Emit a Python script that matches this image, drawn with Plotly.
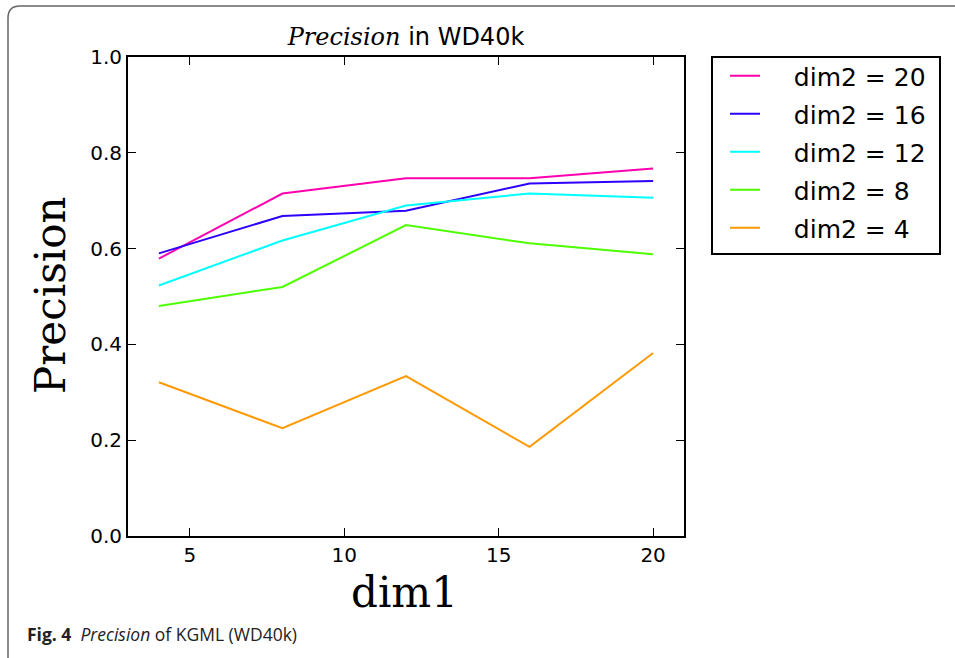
import plotly.graph_objects as go

dim1 = [4, 8, 12, 16, 20]
series_names = ["dim2 = 20", "dim2 = 16", "dim2 = 12", "dim2 = 8", "dim2 = 4"]
prec_20 = [0.579, 0.715, 0.747, 0.747, 0.767]
prec_16 = [0.590, 0.668, 0.679, 0.736, 0.741]
prec_12 = [0.523, 0.617, 0.690, 0.715, 0.706]
prec_8 = [0.480, 0.520, 0.649, 0.611, 0.588]
prec_4 = [0.321, 0.225, 0.334, 0.186, 0.382]
series_values = [prec_20, prec_16, prec_12, prec_8, prec_4]
colors = ["#FF00B0", "#2E00FF", "#00FFFF", "#4DFF00", "#FF9900"]
x_ticks = [5, 10, 15, 20]
y_ticks = [0.0, 0.2, 0.4, 0.6, 0.8, 1.0]

W, H = 955, 658
L, R, T, B = 128, 684, 57, 536


def px(x):
    return (x - L) / (R - L)


def py(y):
    return (B - y) / (B - T)


pad = "\u00a0\u00a0\u00a0\u2009"
fig = go.Figure()
for i, (name, vals, col) in enumerate(zip(series_names, series_values, colors)):
    fig.add_trace(go.Scatter(
        x=dim1, y=vals, mode="lines", name=pad + name,
        line=dict(color=col, width=2),
        legendgroup=f"g{i}",
    ))

axis_common = dict(
    showgrid=False, zeroline=False, showline=True, linecolor="black",
    linewidth=2, mirror="ticks", ticks="inside", ticklen=8, tickwidth=1.3,
    tickcolor="black",
    tickfont=dict(family="DejaVu Sans", size=20, color="black"),
)

fig.update_xaxes(range=[3, 21], tickvals=x_ticks, **axis_common)
fig.update_yaxes(range=[0, 1], tickvals=y_ticks, tickformat=".1f", **axis_common)

frame_path = (
    f"M {px(8)},{py(660)} L {px(8)},{py(18)} "
    f"Q {px(8)},{py(6)} {px(20)},{py(6)} L {px(960)},{py(6)}"
)

fig.update_layout(
    width=W, height=H,
    margin=dict(l=L, r=W - R, t=T, b=H - B, autoexpand=False),
    paper_bgcolor="white", plot_bgcolor="white",
    title=dict(
        text="<span style=\"font-family:'DejaVu Serif'\"><i>Precision</i></span> in WD40k",
        x=0.5, xref="paper", xanchor="center",
        y=1 - 37 / H, yref="container", yanchor="middle",
        font=dict(family="DejaVu Sans", size=24, color="black"),
    ),
    legend=dict(
        x=px(725), y=py(53), xanchor="left", yanchor="top",
        borderwidth=0, bgcolor="rgba(0,0,0,0)",
        font=dict(family="DejaVu Sans", size=25, color="black"),
        tracegroupgap=2.5,
    ),
    shapes=[
        dict(type="path", path=frame_path, xref="paper", yref="paper",
             line=dict(color="#666666", width=1.5)),
        dict(type="rect", x0=px(712), x1=px(940), y0=py(57), y1=py(254),
             xref="paper", yref="paper", line=dict(color="black", width=2),
             fillcolor="rgba(0,0,0,0)"),
    ],
    annotations=[
        dict(text="Precision", x=px(50), y=py(296), xref="paper", yref="paper",
             showarrow=False, textangle=-90, xanchor="center", yanchor="middle",
             font=dict(family="DejaVu Serif", size=42, color="black")),
        dict(text="dim1", x=px(404), y=py(592), xref="paper", yref="paper",
             showarrow=False, xanchor="center", yanchor="middle",
             font=dict(family="DejaVu Serif", size=42, color="black")),
        dict(text="<b>Fig. 4</b>  <i>Precision</i> of KGML (WD40k)",
             x=px(25), y=py(634), xref="paper", yref="paper",
             showarrow=False, xanchor="left", yanchor="middle",
             font=dict(family="Open Sans", size=17.5, color="#222222")),
    ],
)

fig.write_html(
    "out.html",
    config={"displayModeBar": False},
    post_script="document.body.style.margin='0';document.body.style.overflow='hidden';",
)
